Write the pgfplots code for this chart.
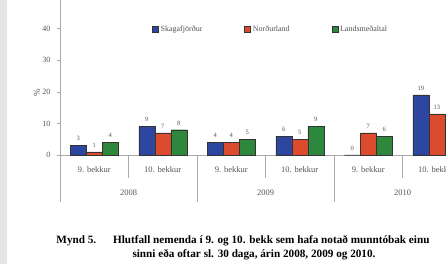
\documentclass[border=0pt]{standalone}
\usepackage{fontspec}
\setmainfont{Liberation Serif}
\usepackage{pgfplots}
\pgfplotsset{compat=1.18}
\definecolor{cblue}{RGB}{45,70,160}
\definecolor{cred}{RGB}{220,75,45}
\definecolor{cgreen}{RGB}{45,135,60}
\definecolor{txt}{RGB}{85,85,85}
\definecolor{axl}{RGB}{170,170,170}
\begin{document}
\begin{tikzpicture}
\useasboundingbox (0pt,0pt) rectangle (446pt,264pt);
\begin{scope}
\clip (0pt,0pt) rectangle (446pt,264pt);
\fill[white] (0pt,0pt) rectangle (446pt,264pt);
\fill[black!10] (0pt,0pt) rectangle (7pt,264pt);
\begin{axis}[
  at={(60pt,109pt)}, anchor=south west,
  scale only axis, width=411pt, height=158pt,
  xmin=-0.5, xmax=5.5, ymin=0, ymax=50,
  ybar=0pt, bar width=16pt,
  axis lines*=left,
  axis line style={draw=axl, line width=0.8pt},
  xtick=\empty,
  ytick={0,10,20,30,40,50},
  tick align=outside, major tick length=3pt,
  tick style={draw=axl},
  yticklabel style={font=\fontsize{8}{8}\selectfont, text=txt, xshift=-3pt},
  /pgf/number format/assume math mode=true,
  nodes near coords,
  every node near coord/.append style={font=\fontsize{6.5}{6.5}\selectfont, text=txt, yshift=1pt},
  clip=false,
  legend style={at={(axis cs:0.80,39.6)}, anchor=west, draw=none, fill=none,
    legend columns=3, font=\fontsize{8}{8}\selectfont, text=txt,
    /tikz/every even column/.append style={column sep=40pt}},
  legend image code/.code={\draw[#1,draw=black!80] (0pt,-2.5pt) rectangle (6pt,3.5pt);},
]
\addplot[fill=cblue, draw=black!80] coordinates {(0,3) (1,9) (2,4) (3,6) (4,0) (5,19)};
\addplot[fill=cred, draw=black!80] coordinates {(0,1) (1,7) (2,4) (3,5) (4,7) (5,13)};
\addplot[fill=cgreen, draw=black!80] coordinates {(0,4) (1,8) (2,5) (3,9) (4,6) (5,11)};
\legend{Skagafjörður, Norðurland, Landsmeðaltal}
\draw[axl, line width=0.8pt] (axis cs:-0.5,0) -- ++(0pt,-47pt);
\pgfplotsinvokeforeach{1.5,3.5,5.5}{\draw[axl, line width=0.6pt] (axis cs:#1,0) -- ++(0pt,-47pt);}
\pgfplotsinvokeforeach{0.5,2.5,4.5}{\draw[axl, line width=0.6pt] (axis cs:#1,0) -- ++(0pt,-23pt);}
\pgfplotsinvokeforeach{0,2,4}{\node[font=\fontsize{8.5}{8.5}\selectfont, text=txt] at (axis cs:#1,0) [yshift=-15pt] {9. bekkur};}
\pgfplotsinvokeforeach{1,3,5}{\node[font=\fontsize{8.5}{8.5}\selectfont, text=txt] at (axis cs:#1,0) [yshift=-15pt] {10. bekkur};}
\node[font=\fontsize{8.5}{8.5}\selectfont, text=txt] at (axis cs:0.5,0) [yshift=-38pt] {2008};
\node[font=\fontsize{8.5}{8.5}\selectfont, text=txt] at (axis cs:2.5,0) [yshift=-38pt] {2009};
\node[font=\fontsize{8.5}{8.5}\selectfont, text=txt] at (axis cs:4.5,0) [yshift=-38pt] {2010};
\end{axis}
\node[rotate=90, font=\fontsize{9}{9}\selectfont, text=txt] at (37pt,171pt) {\%};
\node[font=\bfseries\fontsize{11.2}{11.2}\selectfont] at (243pt,23pt) {Mynd 5.\hspace{1.5em}Hlutfall nemenda í 9. og 10. bekk sem hafa notað munntóbak einu};
\node[font=\bfseries\fontsize{11.2}{11.2}\selectfont] at (254pt,9pt) {sinni eða oftar sl. 30 daga, árin 2008, 2009 og 2010.};
\end{scope}
\end{tikzpicture}
\end{document}
